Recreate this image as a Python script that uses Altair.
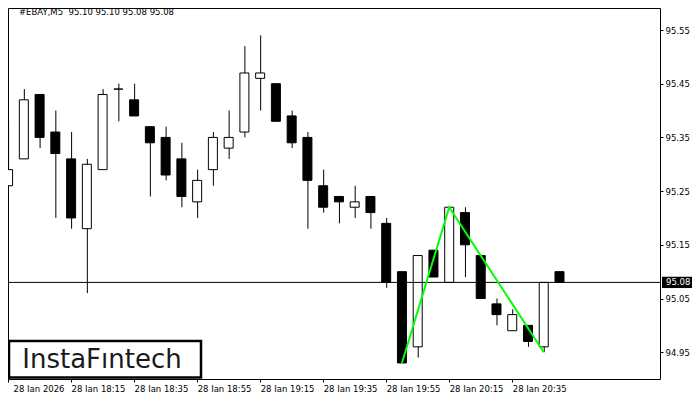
import json
import altair as alt
import pandas as pd

# ---------------- data ----------------
symbol_title = "#EBAY,M5\u00a0 95.10 95.10 95.08 95.08"

candle_idx = list(range(36))
opens = [95.26, 95.31, 95.43, 95.36, 95.31, 95.18, 95.29, 95.44, 95.42, 95.37, 95.35, 95.31,
         95.23, 95.29, 95.33, 95.36, 95.46, 95.45, 95.39, 95.35, 95.26, 95.24, 95.22, 95.24,
         95.19, 95.10, 94.96, 95.14, 95.08, 95.21, 95.13, 95.04, 94.99, 95.00, 94.96, 95.10]
highs = [95.38, 95.44, 95.43, 95.40, 95.36, 95.31, 95.44, 95.45, 95.45, 95.37, 95.37, 95.34,
         95.29, 95.36, 95.40, 95.52, 95.54, 95.45, 95.40, 95.36, 95.29, 95.24, 95.26, 95.24,
         95.20, 95.10, 95.13, 95.14, 95.22, 95.22, 95.13, 95.05, 95.03, 95.00, 95.08, 95.10]
lows = [95.26, 95.31, 95.33, 95.20, 95.18, 95.06, 95.29, 95.38, 95.39, 95.24, 95.27, 95.22,
        95.20, 95.26, 95.31, 95.35, 95.40, 95.38, 95.33, 95.18, 95.21, 95.19, 95.20, 95.18,
        95.07, 94.93, 94.94, 95.09, 95.08, 95.09, 95.05, 95.00, 94.99, 94.96, 94.95, 95.08]
closes = [95.29, 95.42, 95.35, 95.32, 95.20, 95.30, 95.43, 95.44, 95.39, 95.34, 95.28, 95.24,
          95.27, 95.35, 95.35, 95.47, 95.47, 95.38, 95.34, 95.27, 95.22, 95.23, 95.23, 95.21,
          95.08, 94.93, 95.13, 95.09, 95.22, 95.15, 95.05, 95.02, 95.02, 94.97, 95.08, 95.08]

pattern_idx = [25, 28, 34]
pattern_price = [94.93, 95.22, 94.95]

last_price = [95.08]

x_tick_idx = [0, 4, 8, 12, 16, 20, 24, 28, 32]
x_tick_labels = ["28 Jan 2026", "28 Jan 18:15", "28 Jan 18:35", "28 Jan 18:55", "28 Jan 19:15",
                 "28 Jan 19:35", "28 Jan 19:55", "28 Jan 20:15", "28 Jan 20:35"]
y_ticks = [94.95, 95.05, 95.15, 95.25, 95.35, 95.45, 95.55]

logo_text = "InstaF\u0131ntech"

# ---------------- tables ----------------
df = pd.DataFrame({"i": candle_idx, "open": opens, "high": highs, "low": lows, "close": closes})
pat_df = pd.DataFrame({"i": pattern_idx, "p": pattern_price})
last_df = pd.DataFrame({"close": last_price})
title_df = pd.DataFrame({"t": [symbol_title]})
logo_df = pd.DataFrame({"t": [logo_text]})

FONT = "DejaVu Sans"
FS = 8.5
W, H = 652, 371

x_scale = alt.Scale(domain=[0.3125, 41.0625], nice=False, zero=False)
y_scale = alt.Scale(domain=[94.9001, 95.591], nice=False, zero=False)

label_expr = f"{json.dumps(x_tick_labels)}[indexof({json.dumps(x_tick_idx)}, datum.value)]"

x_axis = alt.Axis(values=x_tick_idx, labelExpr=label_expr, orient="bottom", labelAlign="left",
                  labelBaseline="top", labelPadding=2, tickSize=3, labelFlush=False,
                  labelOverlap=False, domain=False, grid=False, title=None,
                  labelOffset={"condition": {"test": "datum.value == 0", "value": 5}, "value": 0})
y_axis = alt.Axis(values=y_ticks, format=".2f", orient="right", tickSize=3, labelPadding=2,
                  labelFlush=False, labelOverlap=False, domain=False, grid=False, title=None,
                  labelBaseline="middle")

wicks = alt.Chart(df).mark_rule(color="black", strokeWidth=1, xOffset=0.5).encode(
    x=alt.X("i:Q", scale=x_scale, axis=x_axis, title=None),
    y=alt.Y("low:Q", scale=y_scale, axis=y_axis, title=None),
    y2="high:Q",
)

bodies = alt.Chart(df).mark_bar(size=9, stroke="black", strokeWidth=1).encode(
    x=alt.X("i:Q", scale=x_scale, title=None),
    y=alt.Y("open:Q", scale=y_scale, title=None),
    y2="close:Q",
    fill=alt.condition("datum.close < datum.open", alt.value("black"), alt.value("white")),
)

price_line = alt.Chart(last_df).mark_rule(color="black", strokeWidth=1).encode(
    y=alt.Y("close:Q", scale=y_scale, title=None),
)

pattern = alt.Chart(pat_df).mark_line(color="#00ff00", strokeWidth=2).encode(
    x=alt.X("i:Q", scale=x_scale, title=None),
    y=alt.Y("p:Q", scale=y_scale, title=None),
)

price_box = alt.Chart(last_df).transform_calculate(
    hi="datum.close + 0.0105", lo="datum.close - 0.0105"
).mark_rect(color="black").encode(
    x=alt.value(W + 2), x2=alt.value(W + 32),
    y=alt.Y("hi:Q", scale=y_scale, title=None),
    y2="lo:Q",
)

price_text = alt.Chart(last_df).mark_text(
    align="left", baseline="middle", color="white", font=FONT, fontSize=FS
).encode(
    x=alt.value(W + 6),
    y=alt.Y("close:Q", scale=y_scale, title=None),
    text=alt.Text("close:Q", format=".2f"),
)

title_text = alt.Chart(title_df).mark_text(
    align="left", baseline="alphabetic", color="black", font=FONT, fontSize=FS
).encode(x=alt.value(11), y=alt.value(7), text="t:N")

logo_box = alt.Chart(logo_df).mark_rect(fill="white", stroke="black", strokeWidth=2.5).encode(
    x=alt.value(1), x2=alt.value(193), y=alt.value(333), y2=alt.value(369.5)
)

logo = alt.Chart(logo_df).mark_text(
    align="center", baseline="alphabetic", color="#1a1a1a", font="DejaVu Sans", fontSize=26
).encode(x=alt.value(94), y=alt.value(359.5), text="t:N")

chart = alt.layer(
    wicks, bodies, price_line, pattern, price_box, price_text, title_text, logo_box, logo
).properties(
    width=W, height=H,
    autosize=alt.AutoSizeParams(type="none"),
    padding={"left": 0, "top": 0, "right": 32, "bottom": 13},
).configure_view(
    stroke="black", strokeWidth=1
).configure_axis(
    labelFont=FONT, labelFontSize=FS, labelColor="black", tickColor="black"
)

chart.save("out.html", embed_options={"renderer": "svg", "actions": False})
